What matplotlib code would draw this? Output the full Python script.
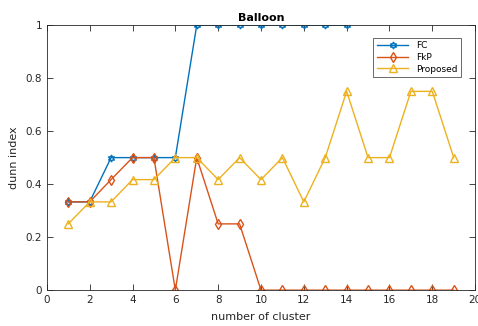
import matplotlib.pyplot as plt
import numpy as np

### DUNN INDEX vs NUMBER OF CLUSTER (BALLOON) ###

x_fc = [1, 2, 3, 4, 5, 6, 7, 8, 9, 10, 11, 12, 13, 14]
fc = [0.333, 0.333, 0.5, 0.5, 0.5, 0.5, 1, 1, 1, 1, 1, 1, 1, 1]

x_fkp = list(range(1, 20))
fkp = [0.333, 0.333, 0.417, 0.5, 0.5, 0.0, 0.5, 0.25, 0.25, 0, 0, 0, 0, 0, 0, 0, 0, 0, 0]

x_prop = list(range(1, 20))
proposed = [0.25, 0.333, 0.333, 0.417, 0.417, 0.5, 0.5, 0.417, 0.5, 0.417,
            0.5, 0.333, 0.5, 0.75, 0.5, 0.5, 0.75, 0.75, 0.5]

fig = plt.figure(figsize=(4.78, 3.26), dpi=100)
ax = fig.add_axes([0.098, 0.110, 0.896, 0.813])

ax.plot(x_fc, fc, color="#0072BD", marker=(6, 1, 0), ms=5, mfc="none", lw=1, label="FC")
ax.plot(x_fkp, fkp, color="#D95319", marker="d", ms=5.5, mfc="none", lw=1, label="FkP")
ax.plot(x_prop, proposed, color="#EDB120", marker="^", ms=6, mfc="none", lw=1, label="Proposed")

ax.set_xlim(0, 20)
ax.set_ylim(0, 1)
ax.set_xticks(np.arange(0, 21, 2))
ax.set_yticks([0, 0.2, 0.4, 0.6, 0.8, 1])
ax.set_yticklabels(["0", "0.2", "0.4", "0.6", "0.8", "1"])
ax.tick_params(direction="in", top=True, right=True, labelsize=7.5, colors="#262626", length=4, width=0.6)
for s in ax.spines.values():
    s.set_linewidth(0.6)
    s.set_color("#262626")

ax.set_title("Balloon", fontsize=8, fontweight="bold", pad=3)
ax.set_xlabel("number of cluster", fontsize=8, color="#262626", labelpad=5)
ax.set_ylabel("dunn index", fontsize=8, color="#262626", labelpad=5)

leg = ax.legend(loc="upper right", fontsize=6.5, fancybox=False, edgecolor="#262626",
                bbox_to_anchor=(0.977, 0.97), borderpad=0.4, handlelength=3.5, labelspacing=0.3)
leg.get_frame().set_linewidth(0.6)

plt.savefig("out.png", dpi=100)
